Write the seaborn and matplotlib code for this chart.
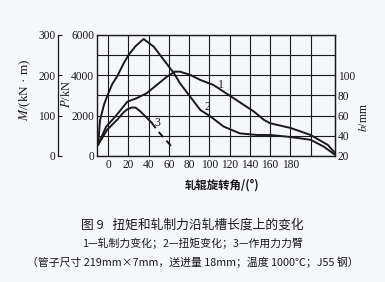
import matplotlib
matplotlib.use("Agg")
import matplotlib.pyplot as plt
import seaborn as sns
import pandas as pd

# ---- data ----
angle_force = [-10, -2, 7, 15, 19, 28, 38, 48, 58, 66, 71, 81, 91, 104, 114, 124, 134, 144, 154, 160, 180, 200, 217, 224]
force_kN = [545, 1455, 1950, 2445, 2690, 2860, 3110, 3520, 3930, 4180, 4180, 4020, 3770, 3520, 3190, 2860, 2530, 2200, 1785, 1620, 1390, 1040, 545, 150]

angle_torque = [-10, -8, -4, -1, 4, 9, 15, 20, 27, 35, 45, 55, 65, 71, 81, 91, 101, 114, 130, 147, 160, 180, 200, 213, 224]
torque_kNm = [27, 89, 128, 148, 178, 198, 228, 250, 272, 290, 271, 238, 205, 180, 147, 114, 98, 73, 56, 52, 52, 47, 40, 23, 3]

angle_arm_solid = [-10, -1, 9, 15, 18.5, 23, 27, 32, 38, 43]
arm_solid_mm = [31, 46, 56, 63, 66, 68, 68, 64, 58, 53]
angle_arm_dash = [43, 48, 55, 63]
arm_dash_mm = [53, 46, 38, 29]

x_ticks = [0, 20, 40, 60, 80, 100, 120, 140, 160, 180, 200]
x_ticklabels = ['0', '20', '40', '60', '80', '100', '120', '140', '160', '180', '']
p_ticks = [0, 1000, 2000, 3000, 4000, 5000, 6000]
p_ticklabels = ['0', '', '2000', '', '4000', '', '6000']
m_ticks = [0, 100, 200, 300]
b_ticks = [20, 40, 60, 80, 100]

curve_labels = ['1', '2', '3']
xlabel = '轧辊旋转角/(°)'
caption1 = '图 9   扭矩和轧制力沿轧槽长度上的变化'
caption2 = '1—轧制力变化；2—扭矩变化；3—作用力力臂'
caption3 = '（管子尺寸 219mm×7mm，送进量 18mm；温度 1000℃；J55 钢）'

sns.set_style('white')
plt.rcParams['font.family'] = ['Liberation Serif', 'Noto Sans CJK SC', 'DejaVu Sans']
plt.rcParams['mathtext.fontset'] = 'stix'

BG = '#f6f7fb'
INK = '#1a1a1a'
SERIF = ['Liberation Serif', 'Noto Sans CJK SC']
CJK = ['Noto Sans CJK SC', 'DejaVu Sans']

fig = plt.figure(figsize=(3.85, 2.82), dpi=100, facecolor=BG)
ax = fig.add_axes([0.252, 0.447, 0.618, 0.429])
ax.set_facecolor(BG)

df_force = pd.DataFrame({'angle': angle_force, 'val': force_kN})
df_torque = pd.DataFrame({'angle': angle_torque, 'val': torque_kNm})
df_arm_s = pd.DataFrame({'angle': angle_arm_solid, 'val': arm_solid_mm})
df_arm_d = pd.DataFrame({'angle': angle_arm_dash, 'val': arm_dash_mm})

# main axis: P
sns.lineplot(data=df_force, x='angle', y='val', ax=ax, color=INK, lw=1.4, sort=False)
ax.set_xlim(-11, 224)
ax.set_ylim(0, 6000)
ax.set_xticks(x_ticks)
ax.set_xticklabels(x_ticklabels)
ax.set_yticks(p_ticks)
ax.set_yticklabels(p_ticklabels)
ax.grid(True, color=INK, lw=0.8)
ax.set_axisbelow(True)
ax.tick_params(axis='both', length=0, labelsize=8.3, colors=INK, pad=2)
ax.set_xlabel('')
ax.set_ylabel('')
for s in ax.spines.values():
    s.set_color(INK)
    s.set_linewidth(1.0)

# torque axis M (left, offset)
axM = ax.twinx()
axM.patch.set_visible(False)
sns.lineplot(data=df_torque, x='angle', y='val', ax=axM, color=INK, lw=1.4, sort=False)
axM.set_ylim(0, 300)
axM.yaxis.tick_left()
axM.yaxis.set_label_position('left')
axM.spines['left'].set_position(('axes', -0.164))
for k in ['right', 'top', 'bottom']:
    axM.spines[k].set_visible(False)
axM.spines['left'].set_color(INK)
axM.spines['left'].set_linewidth(0.9)
axM.set_yticks(m_ticks)
axM.tick_params(axis='y', direction='in', length=3, labelsize=8.3, colors=INK, pad=2)
axM.set_ylabel('')

# arm axis b (right)
axB = ax.twinx()
axB.patch.set_visible(False)
sns.lineplot(data=df_arm_s, x='angle', y='val', ax=axB, color=INK, lw=1.4, sort=False)
sns.lineplot(data=df_arm_d, x='angle', y='val', ax=axB, color=INK, lw=1.4, sort=False,
             linestyle=(0, (3.5, 2.5)))
axB.set_ylim(20, 140)
axB.set_yticks(b_ticks)
axB.tick_params(axis='y', length=0, labelsize=8.3, colors=INK, pad=2)
for k in ['left', 'top', 'bottom']:
    axB.spines[k].set_visible(False)
axB.spines['right'].set_color(INK)
axB.set_ylabel('')
ax.set_xlim(-11, 224)

# curve numbers
ax.text(111, 3520, curve_labels[0], fontsize=8.5, color=INK, family=SERIF, ha='center', va='center')
ax.text(98, 2430, curve_labels[1], fontsize=8.5, color=INK, family=SERIF, ha='center', va='center')
ax.text(49, 1640, curve_labels[2], fontsize=8.5, color=INK, family=SERIF, ha='center', va='center')

# axis titles
fig.text(25/385, 1-90/282, r'$M$/(kN · m)', rotation=90, ha='center', va='center', fontsize=9.5, color=INK, family=SERIF)
fig.text(67/385, 1-94/282, r'$P$/kN', rotation=90, ha='center', va='center', fontsize=9, color=INK, family=SERIF)
fig.text(364/385, 1-117/282, r'$b$/mm', rotation=90, ha='center', va='center', fontsize=8.5, color=INK, family=SERIF)
fig.text(222/385, 1-185/282, xlabel, ha='center', va='center', fontsize=8.2, color=INK, family=CJK, weight='bold')

# caption
fig.text(0.5, 1-225/282, caption1, ha='center', va='center', fontsize=9.2, color=INK, family=CJK)
fig.text(0.5, 1-243/282, caption2, ha='center', va='center', fontsize=7.8, color=INK, family=CJK)
fig.text(0.5, 1-262/282, caption3, ha='center', va='center', fontsize=7.8, color=INK, family=CJK)

fig.savefig('out.png', dpi=100, facecolor=BG)
